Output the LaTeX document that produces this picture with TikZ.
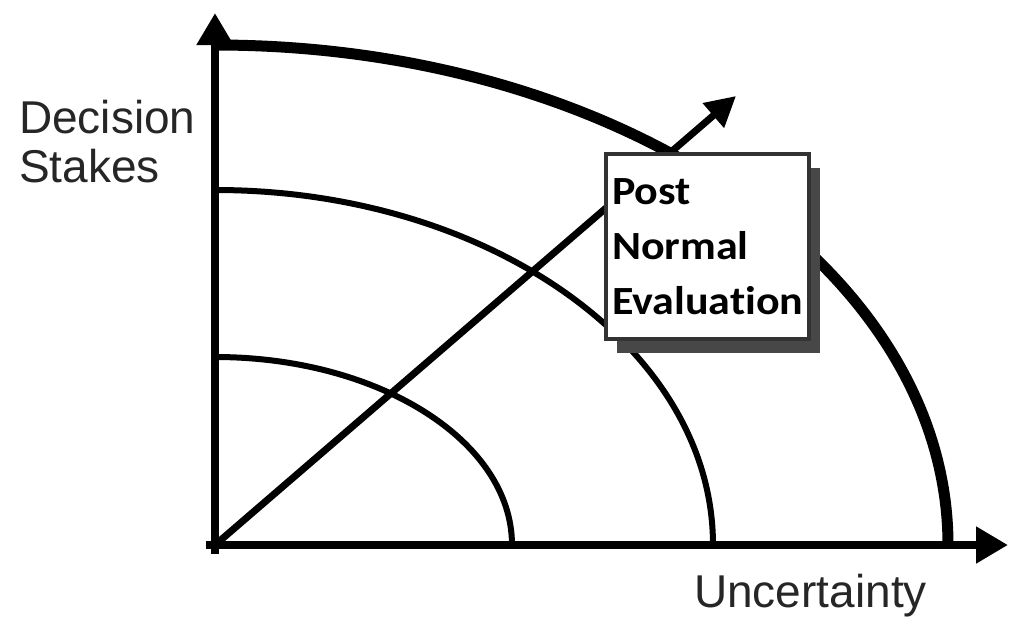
\documentclass[tikz,border=0pt]{standalone}
\usepackage{fontspec}
\setmainfont{Liberation Sans}
\newfontfamily\calibfont[FakeStretch=1.1,Ligatures=NoCommon]{Carlito}
\usetikzlibrary{arrows.meta,shadows}
\begin{document}
\begin{tikzpicture}[x=1pt,y=-1pt,
  axis/.style={line width=8pt,-{Triangle[length=32pt,width=35pt]}},
  diag/.style={line width=7pt,-{Triangle[length=30pt,width=31pt]}},
  ring/.style={line width=6pt},
  outerring/.style={line width=11pt},
  lbl/.style={inner sep=0pt,font=\fontsize{46}{49}\selectfont,align=left,text=black!85},
  pnebox/.style={draw=black!80,line width=3.5pt,fill=white,
    general shadow={fill=black!72,shadow xshift=11pt,shadow yshift=-14pt},
    minimum width=203pt,minimum height=185pt,text width=191pt,align=left,
    inner xsep=6pt,inner ysep=0pt,
    font=\calibfont\bfseries\fontsize{40}{55}\selectfont}]
\useasboundingbox (0,0) rectangle (1024,643);
\coordinate (O) at (215,545);
\coordinate (ystart) at (215,554);
\coordinate (xstart) at (206,545);
\coordinate (ytip) at (215,13);
\coordinate (xtip) at (1008,545);
\coordinate (dtip) at (736,96);
% rings
\draw[ring] (215,357) arc[start angle=270,end angle=360,x radius=297,y radius=188];
\draw[ring] (215,190) arc[start angle=270,end angle=360,x radius=498,y radius=355];
\draw[outerring] (215,45) arc[start angle=270,end angle=360,x radius=733,y radius=500];
% axes
\draw[axis] (ystart) -- (ytip);
\draw[axis] (xstart) -- (xtip);
\draw[diag] (O) -- (dtip);
% box
\node[pnebox] (pne) at (707.5,246.5) {Post\\Normal\\Evaluation};
% labels
\node[lbl,anchor=north west] (stakes) at (19,100) {Decision\\Stakes};
\node[lbl,anchor=base west] (unc) at (694,607) {Uncertainty};
\end{tikzpicture}
\end{document}
